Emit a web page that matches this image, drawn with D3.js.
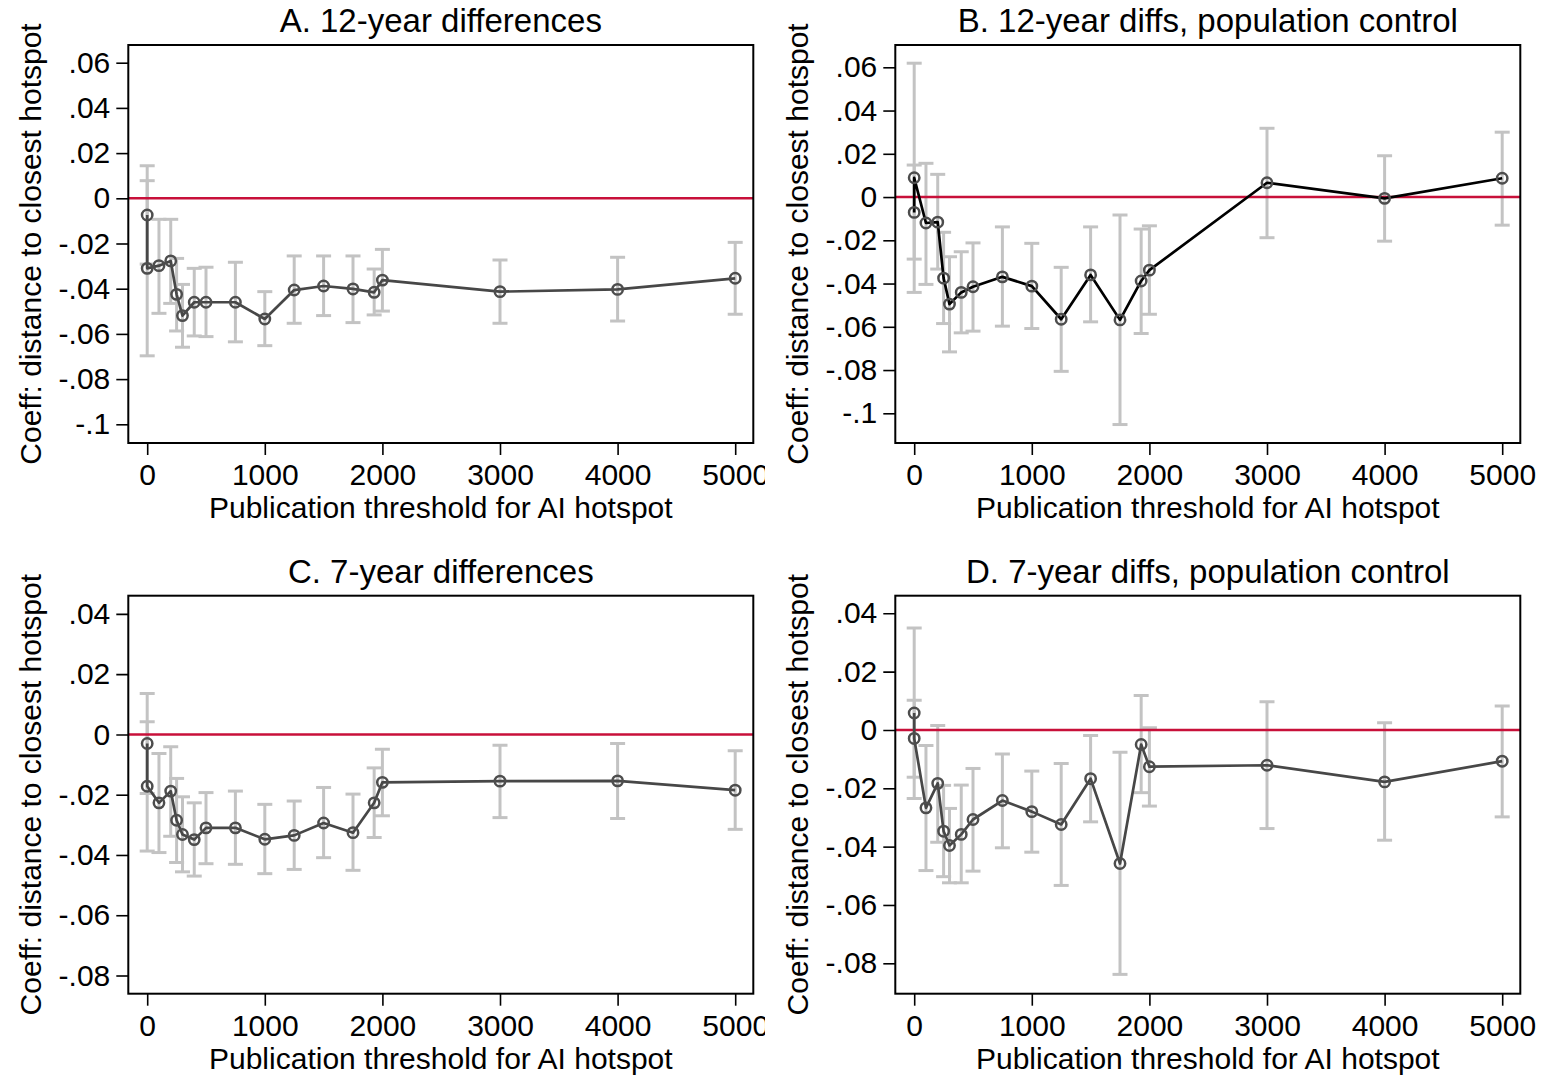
<!DOCTYPE html>
<html><head><meta charset="utf-8">
<script src="https://cdn.jsdelivr.net/npm/d3@7"></script>
<style>
body{margin:0;background:#fff}
svg{display:block}
text{font-family:"Liberation Sans",Arial,Helvetica,sans-serif;fill:#000}
</style>
</head><body>
<svg id="c" width="1550" height="1078"></svg>
<script>
// ---------------- data ----------------
const thresholds = [0, 0, 100, 200, 250, 300, 400, 500, 750, 1000, 1250, 1500, 1750, 1930, 2000, 3000, 4000, 5000];

const coefA = [-0.0074, -0.0310, -0.0298, -0.0277, -0.0425, -0.0519, -0.0460, -0.0460, -0.0460, -0.0534, -0.0406, -0.0388, -0.0401, -0.0416, -0.0362, -0.0413, -0.0403, -0.0354];
const loA   = [-0.0291, -0.0697, -0.0509, -0.0465, -0.0587, -0.0659, -0.0609, -0.0612, -0.0635, -0.0652, -0.0553, -0.0519, -0.0550, -0.0516, -0.0499, -0.0553, -0.0543, -0.0513];
const hiA   = [ 0.0144,  0.0078, -0.0093, -0.0093, -0.0266, -0.0381, -0.0310, -0.0305, -0.0283, -0.0413, -0.0255, -0.0255, -0.0255, -0.0313, -0.0226, -0.0273, -0.0261, -0.0195];

const coefB = [-0.0071,  0.0089, -0.0120, -0.0116, -0.0375, -0.0495, -0.0441, -0.0415, -0.0369, -0.0412, -0.0565, -0.0360, -0.0568, -0.0388, -0.0338,  0.0066, -0.0006,  0.0087];
const loB   = [-0.0287, -0.0441, -0.0404, -0.0333, -0.0585, -0.0716, -0.0628, -0.0620, -0.0597, -0.0608, -0.0806, -0.0577, -0.1052, -0.0631, -0.0542, -0.0188, -0.0204, -0.0130];
const hiB   = [ 0.0148,  0.0619,  0.0156,  0.0105, -0.0163, -0.0276, -0.0253, -0.0212, -0.0138, -0.0214, -0.0325, -0.0138, -0.0083, -0.0148, -0.0133,  0.0318,  0.0191,  0.0300];

const coefC = [-0.0030, -0.0172, -0.0227, -0.0188, -0.0285, -0.0332, -0.0349, -0.0310, -0.0310, -0.0348, -0.0335, -0.0294, -0.0326, -0.0227, -0.0159, -0.0155, -0.0154, -0.0185];
const loC   = [-0.0196, -0.0387, -0.0392, -0.0338, -0.0425, -0.0456, -0.0470, -0.0429, -0.0431, -0.0462, -0.0448, -0.0409, -0.0451, -0.0342, -0.0270, -0.0276, -0.0279, -0.0315];
const hiC   = [ 0.0136,  0.0042, -0.0063, -0.0041, -0.0146, -0.0207, -0.0227, -0.0193, -0.0188, -0.0232, -0.0221, -0.0176, -0.0198, -0.0111, -0.0049, -0.0036, -0.0030, -0.0054];

const coefD = [ 0.0058, -0.0029, -0.0267, -0.0183, -0.0347, -0.0396, -0.0358, -0.0307, -0.0242, -0.0280, -0.0324, -0.0167, -0.0458, -0.0050, -0.0126, -0.0121, -0.0178, -0.0107];
const loD   = [-0.0235, -0.0162, -0.0482, -0.0385, -0.0503, -0.0524, -0.0524, -0.0484, -0.0404, -0.0419, -0.0533, -0.0315, -0.0838, -0.0215, -0.0261, -0.0338, -0.0378, -0.0298];
const hiD   = [ 0.0350,  0.0102, -0.0053,  0.0015, -0.0190, -0.0269, -0.0189, -0.0132, -0.0082, -0.0141, -0.0115, -0.0019, -0.0076,  0.0118,  0.0008,  0.0097,  0.0025,  0.0082];

const xTicks = [0, 1000, 2000, 3000, 4000, 5000];
const xTickLabels = ["0", "1000", "2000", "3000", "4000", "5000"];
const yTicks12 = [0.06, 0.04, 0.02, 0, -0.02, -0.04, -0.06, -0.08, -0.1];
const yTickLabels12 = [".06", ".04", ".02", "0", "-.02", "-.04", "-.06", "-.08", "-.1"];
const yTicks7 = [0.04, 0.02, 0, -0.02, -0.04, -0.06, -0.08];
const yTickLabels7 = [".04", ".02", "0", "-.02", "-.04", "-.06", "-.08"];

const panelTitles = ["A. 12-year differences", "B. 12-year diffs, population control",
                     "C. 7-year differences", "D. 7-year diffs, population control"];
const xTitle = "Publication threshold for AI hotspot";
const yTitle = "Coeff: distance to closest hotspot";

// ---------------- layout ----------------
const svg = d3.select("#c");
const FL = 128.3, FR = 753.3, FT = 45, FB = 443;
const panels = [
  {title: panelTitles[0], c: coefA, lo: loA, hi: hiA, ticks: yTicks12, labels: yTickLabels12, px: 0,   py: 0,     yr: [62.7, 424.3], lineCol: "#474747", clip: 765},
  {title: panelTitles[1], c: coefB, lo: loB, hi: hiB, ticks: yTicks12, labels: yTickLabels12, px: 767, py: 0,     yr: [67.3, 413.3], lineCol: "#000000", clip: 790},
  {title: panelTitles[2], c: coefC, lo: loC, hi: hiC, ticks: yTicks7,  labels: yTickLabels7,  px: 0,   py: 550.7, yr: [63.2, 424.8], lineCol: "#474747", clip: 765},
  {title: panelTitles[3], c: coefD, lo: loD, hi: hiD, ticks: yTicks7,  labels: yTickLabels7,  px: 767, py: 550.7, yr: [62.6, 412.6], lineCol: "#474747", clip: 790}
];

const x = d3.scaleLinear().domain([0, 5000]).range([147.2, 735.2]);

panels.forEach((p, k) => {
  const cid = "clip" + k;
  svg.append("clipPath").attr("id", cid).append("rect")
     .attr("x", -5).attr("y", 0).attr("width", p.clip + 5).attr("height", 551);
  const g = svg.append("g").attr("transform", `translate(${p.px},${p.py})`)
     .attr("clip-path", `url(#${cid})`);

  const y = d3.scaleLinear().domain([p.ticks[0], p.ticks[p.ticks.length - 1]]).range(p.yr);
  const pts = thresholds.map((t, i) => ({t, c: p.c[i], lo: p.lo[i], hi: p.hi[i]}));

  // error bars
  const eb = g.append("g").attr("stroke", "#c3c3c3").attr("stroke-width", 3).attr("fill", "none");
  pts.forEach(d => {
    const xx = x(d.t);
    eb.append("line").attr("x1", xx).attr("x2", xx).attr("y1", y(d.lo)).attr("y2", y(d.hi));
    eb.append("line").attr("x1", xx - 7.5).attr("x2", xx + 7.5).attr("y1", y(d.lo)).attr("y2", y(d.lo));
    eb.append("line").attr("x1", xx - 7.5).attr("x2", xx + 7.5).attr("y1", y(d.hi)).attr("y2", y(d.hi));
  });

  // zero reference line
  g.append("line").attr("x1", FL).attr("x2", FR).attr("y1", y(0)).attr("y2", y(0))
   .attr("stroke", "#c8103a").attr("stroke-width", 2.6);

  // connecting line
  g.append("path").datum(pts)
   .attr("d", d3.line().x(d => x(d.t)).y(d => y(d.c)))
   .attr("fill", "none").attr("stroke", p.lineCol).attr("stroke-width", 2.7)
   .attr("stroke-linejoin", "round");

  // markers
  g.append("g").selectAll("circle").data(pts).join("circle")
   .attr("cx", d => x(d.t)).attr("cy", d => y(d.c)).attr("r", 5.2)
   .attr("fill", "none").attr("stroke", "#4d4d4d").attr("stroke-width", 2.5);

  // frame
  g.append("rect").attr("x", FL).attr("y", FT).attr("width", FR - FL).attr("height", FB - FT)
   .attr("fill", "none").attr("stroke", "#000").attr("stroke-width", 2);

  // y axis
  const ya = g.append("g").attr("transform", `translate(${FL},0)`)
    .call(d3.axisLeft(y).tickValues(p.ticks).tickFormat((d, i) => p.labels[i]).tickSize(12).tickPadding(6));
  ya.select(".domain").remove();
  ya.selectAll("line").attr("stroke", "#000").attr("stroke-width", 1.6);
  ya.selectAll("text").attr("font-size", 30).attr("fill", "#000");
  ya.attr("font-family", null);

  // x axis
  const xa = g.append("g").attr("transform", `translate(0,${FB})`)
    .call(d3.axisBottom(x).tickValues(xTicks).tickFormat((d, i) => xTickLabels[i]).tickSize(12).tickPadding(9));
  xa.select(".domain").remove();
  xa.selectAll("line").attr("stroke", "#000").attr("stroke-width", 1.6);
  xa.selectAll("text").attr("font-size", 30).attr("fill", "#000");
  xa.attr("font-family", null);

  // titles
  g.append("text").attr("x", (FL + FR) / 2).attr("y", 32).attr("text-anchor", "middle")
   .attr("font-size", 33).text(p.title);
  g.append("text").attr("x", (FL + FR) / 2).attr("y", 518).attr("text-anchor", "middle")
   .attr("font-size", 30).text(xTitle);
  g.append("text").attr("transform", `translate(41,${(FT + FB) / 2}) rotate(-90)`)
   .attr("text-anchor", "middle").attr("font-size", 30).text(yTitle);
});
</script>
</body></html>
